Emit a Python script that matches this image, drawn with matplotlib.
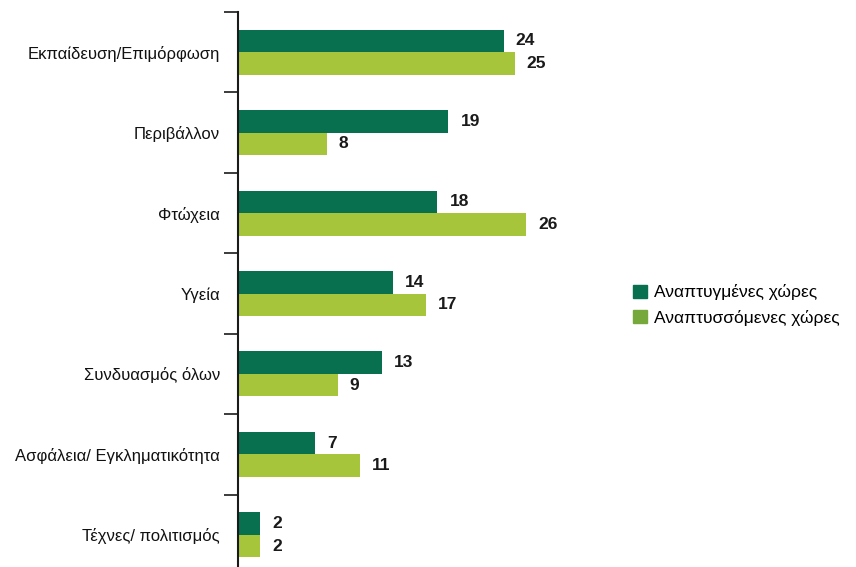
import matplotlib.pyplot as plt
import numpy as np
from matplotlib.patches import Patch

categories = ['Εκπαίδευση/Επιμόρφωση', 'Περιβάλλον', 'Φτώχεια', 'Υγεία',
              'Συνδυασμός όλων', 'Ασφάλεια/ Εγκληματικότητα', 'Τέχνες/ πολιτισμός']
developed = [24, 19, 18, 14, 13, 7, 2]
developing = [25, 8, 26, 17, 9, 11, 2]
series_names = ['Αναπτυγμένες χώρες', 'Αναπτυσσόμενες χώρες']

dark = '#08704f'
light = '#a7c53b'
legend_light = '#76a83c'

plt.rcParams['font.family'] = ['Liberation Sans', 'DejaVu Sans']

fig = plt.figure(figsize=(8.56, 5.67), dpi=100)
ax = fig.add_axes([238 / 856, 0.0, 363 / 856, 1 - 12 / 567])

y = np.arange(len(categories))
h = 0.28
b1 = ax.barh(y - h / 2, developed, height=h, color=dark)
b2 = ax.barh(y + h / 2, developing, height=h, color=light)

for bars, vals in ((b1, developed), (b2, developing)):
    for bar, v in zip(bars, vals):
        ax.text(bar.get_width() + 1.1, bar.get_y() + bar.get_height() / 2, str(v),
                va='center', ha='left', fontsize=12.5, fontweight='bold', color='#1a1a1a')

ax.set_xlim(0, 32.8)
ax.set_ylim(6.4, -0.5)

ax.set_yticks(y)
ax.set_yticklabels(categories, fontsize=12, color='#111111')
ax.tick_params(axis='y', which='major', length=0, pad=13)
ax.set_yticks(np.arange(-0.5, 6.0, 1.0), minor=True)
ax.tick_params(axis='y', which='minor', length=10, width=1.2, color='#1a1a1a')
ax.set_xticks([])

for s in ('top', 'right', 'bottom'):
    ax.spines[s].set_visible(False)
ax.spines['left'].set_linewidth(1.5)
ax.spines['left'].set_color('#1a1a1a')

handles = [Patch(color=dark), Patch(color=legend_light)]
fig.legend(handles, series_names, loc='center left', bbox_to_anchor=(624 / 856, 1 - 305 / 567),
           frameon=False, fontsize=12.5, handlelength=0.8, handleheight=0.8,
           handletextpad=0.4, labelspacing=0.55, borderpad=0)

fig.savefig('out.png', dpi=100)
